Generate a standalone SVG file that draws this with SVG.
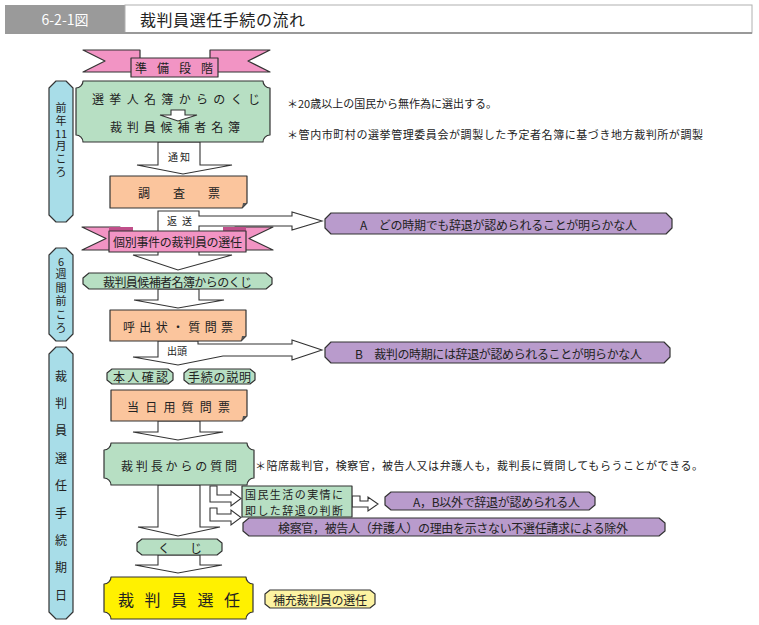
<svg xmlns="http://www.w3.org/2000/svg" width="759" height="625" viewBox="0 0 759 625">
<style>
text{font-family:"Noto Sans CJK JP","Noto Sans",sans-serif;fill:#222;dominant-baseline:central}
.ln{stroke:#333;stroke-width:1.2;stroke-linejoin:round}
.grn{fill:#b7dfc3}
.org{fill:#fbc59d}
.pur{fill:#b99bcc}
.blu{fill:#a8dde8}
.pnk{fill:#f294c4}
.dpk{fill:#c04f8a}
.yel{fill:#fff100}
.lyl{fill:#fdf3a2}
.arr{fill:#fff;stroke:#333;stroke-width:1.1;stroke-linejoin:miter}
.s12{font-size:12px}
.s11{font-size:11px}
.s10{font-size:10px}
.vt{font-size:11px;writing-mode:vertical-rl;letter-spacing:2px}
.hz{font-size:11px;text-anchor:middle}
.vt3{font-size:12px;writing-mode:vertical-rl;letter-spacing:15.4px}
</style>

<g id="header">
<rect x="5" y="5" width="120" height="28" fill="#9a9a9a"/>
<rect x="125" y="5" width="627" height="28" fill="#fff" stroke="#b0b0b0" stroke-width="1"/>
<line x1="5" y1="33" x2="752" y2="33" stroke="#999" stroke-width="2"/>
<text x="65" y="19" font-size="14" text-anchor="middle" style="fill:#fff">6-2-1図</text>
<text x="140" y="19" font-size="16" textLength="165">裁判員選任手続の流れ</text>
</g>

<g id="bar1">
<path class="ln blu" d="M56,81 H66 L73,88 V215 L66,222 H56 L49,215 V88 Z"/>
<text class="vt" x="61" y="102.5">前年</text>
<text class="hz" x="61" y="133">11</text>
<text class="vt" x="61" y="140.5">月ころ</text>
</g>
<g id="bar2">
<path class="ln blu" d="M56,248 H66 L73,255 V334 L66,341 H56 L49,334 V255 Z"/>
<text class="hz" x="61" y="261">6</text>
<text class="vt" x="61" y="268.5" style="letter-spacing:2.5px">週間前ころ</text>
</g>
<g id="bar3">
<path class="ln blu" d="M56,347 H66 L73,354 V612 L66,619 H56 L49,612 V354 Z"/>
<text class="vt3" x="61" y="370">裁判員選任手続期日</text>
</g>

<g id="connectors">
<polygon class="arr" points="158,142 200,142 200,165 232,165 183,174 137,165 158,165"/>
<polygon class="arr" points="158,211 199,211 199,216 292,216 292,212 322,221 292,230 292,226 199,226 199,255 232,255 178,270 133,255 158,255"/>
<polygon class="arr" points="158,289 199,289 199,300 224,300 178,308 134,300 158,300"/>
<polygon class="arr" points="158,341 198,341 198,344 292,344 292,340 322,350 292,360 292,356 223,356 178,365 133,357 158,357"/>
<polygon class="arr" points="158,421 200,421 200,432 223,432 178,440 133,432 158,432"/>
<polygon class="arr" points="158,485 200,485 200,527 220,527 178,536 138,527 158,527"/>
<polygon class="arr" points="210,486 217,486 217,495 231,495 231,491 241,498.5 231,506 231,502 210,502"/>
<polygon class="arr" points="210,508 217,508 217,514 231,514 231,510 241,517.5 231,525 231,521 210,521"/>
<polygon class="arr" points="352,496 360,496 360,501 368,501 368,497 378,504 368,511 368,507 352,507"/>
<polygon class="arr" points="158,555 200,555 200,565 222,565 178,573 135,565 158,565"/>
<text class="s10" x="168" y="156" textLength="22">通知</text>
<text class="s10" x="167" y="220" textLength="25">返送</text>
<text class="s10" x="167" y="350" textLength="20">出頭</text>
</g>

<g id="ribbon1">
<polygon class="ln pnk" points="83,50 140,50 140,72 83,72 105,61"/>
<polygon class="ln pnk" points="210,50 270,50 248,61 270,72 210,72"/>
<rect class="ln pnk" x="131" y="58" width="87" height="19"/>
<text class="s12" x="135" y="67" textLength="78">準備段階</text>
</g>

<g id="senkyonin">
<path class="ln grn" d="M83,81 H263 A7,7 0 0 0 270,88 V135 A7,7 0 0 0 263,142 H83 A7,7 0 0 0 76,135 V88 A7,7 0 0 0 83,81 Z"/>
<text class="s12" x="92" y="98" textLength="168">選挙人名簿からのくじ</text>
<text class="s12" x="110" y="126" textLength="130">裁判員候補者名簿</text>
<polygon class="arr" points="171,110 185,110 185,115 197,115 178,121 160,115 171,115"/>
</g>

<g id="notes1">
<text class="s11" x="287" y="103" textLength="210">＊20歳以上の国民から無作為に選出する。</text>
<text class="s11" x="287" y="134" textLength="416">＊管内市町村の選挙管理委員会が調製した予定者名簿に基づき地方裁判所が調製</text>
</g>

<g id="chosahyo">
<path class="ln org" d="M110,176 H247 V203 L242,208 H110 Z"/>
<path d="M247,203 L242,208 L243,203 Z" fill="#555"/>
<text class="s12" x="138" y="192" textLength="82">調　査　票</text>
</g>

<g id="boxA">
<path class="ln pur" d="M331,213 H666 L672,219 V228 L666,234 H331 L325,228 V219 Z"/>
<text class="s12" x="360" y="224" textLength="277">A　どの時期でも辞退が認められることが明らかな人</text>
</g>

<g id="ribbon2">
<polygon class="ln pnk" points="82,227 120,227 120,250 82,250 106,238.5"/>
<polygon class="ln pnk" points="235,227 273,227 249,238.5 273,250 235,250"/>
<rect class="dpk" x="109" y="227" width="24" height="5"/>
<rect class="dpk" x="223" y="227" width="23" height="5"/>
<rect class="ln pnk" x="109" y="231" width="137" height="21"/>
<text class="s12" x="113" y="241.5" textLength="129">個別事件の裁判員の選任</text>
</g>

<g id="kuji1">
<path class="ln grn" d="M89,273 H266 L272,278 V284 L266,289 H89 L83,284 V278 Z"/>
<text class="s12" x="103" y="281" textLength="149">裁判員候補者名簿からのくじ</text>
</g>

<g id="yobidashi">
<path class="ln org" d="M110,310 H246 V336 L241,341 H110 Z"/>
<path d="M246,336 L241,341 L242,336 Z" fill="#555"/>
<text class="s12" x="123" y="326" textLength="110">呼出状・質問票</text>
</g>

<g id="boxB">
<path class="ln pur" d="M331,342 H664 L670,348 V357 L664,363 H331 L325,357 V348 Z"/>
<text class="s12" x="355" y="353" textLength="287">B　裁判の時期には辞退が認められることが明らかな人</text>
</g>

<g id="honnin">
<path class="ln grn" d="M112,369 H168 L173,373 V380 L168,384 H112 L107,380 V373 Z"/>
<text class="s12" x="113" y="376.5" textLength="55">本人確認</text>
</g>
<g id="setsumei">
<path class="ln grn" d="M189,369 H250 L255,373 V380 L250,384 H189 L184,380 V373 Z"/>
<text class="s12" x="188" y="376.5" textLength="63">手続の説明</text>
</g>

<g id="tojitsu">
<path class="ln org" d="M111,390 H247 V416 L242,421 H111 Z"/>
<path d="M247,416 L242,421 L243,416 Z" fill="#555"/>
<text class="s12" x="127" y="406" textLength="103">当日用質問票</text>
</g>

<g id="saibancho">
<path class="ln grn" d="M111,443 H247 A7,7 0 0 0 254,450 V478 A7,7 0 0 0 247,485 H111 A7,7 0 0 0 104,478 V450 A7,7 0 0 0 111,443 Z"/>
<text class="s12" x="121" y="465" textLength="116">裁判長からの質問</text>
</g>
<g id="note3">
<text class="s11" x="255" y="465" textLength="448">＊陪席裁判官，検察官，被告人又は弁護人も，裁判長に質問してもらうことができる。</text>
</g>

<g id="kokumin">
<rect class="ln grn" x="242" y="486" width="110" height="31"/>
<text class="s11" x="245" y="494" textLength="98">国民生活の実情に</text>
<text class="s11" x="245" y="510" textLength="98">即した辞退の判断</text>
</g>

<g id="boxAB">
<path class="ln pur" d="M391,492 H589 L595,497 V505 L589,510 H391 L385,505 V497 Z"/>
<text class="s12" x="413" y="501" textLength="167">A，B以外で辞退が認められる人</text>
</g>

<g id="fusennin">
<path class="ln pur" d="M249,518 H659 L665,523 V531 L659,536 H249 L243,531 V523 Z"/>
<text class="s12" x="278" y="527" textLength="350">検察官，被告人（弁護人）の理由を示さない不選任請求による除外</text>
</g>

<g id="kuji2">
<path class="ln grn" d="M142,539 H217 L222,543 V551 L217,555 H142 L137,551 V543 Z"/>
<text class="s12" x="158" y="547" textLength="44">く　じ</text>
</g>

<g id="sennin">
<path class="ln yel" d="M111,577 H246 A7,7 0 0 0 253,584 V612 A7,7 0 0 0 246,619 H111 A7,7 0 0 0 104,612 V584 A7,7 0 0 0 111,577 Z"/>
<text x="118" y="599" font-size="16" textLength="122">裁判員選任</text>
</g>

<g id="hoju">
<path class="ln lyl" d="M270,590 H370 L375,594 V604 L370,608 H270 L265,604 V594 Z"/>
<text class="s12" x="273" y="599" textLength="94">補充裁判員の選任</text>
</g>
</svg>
